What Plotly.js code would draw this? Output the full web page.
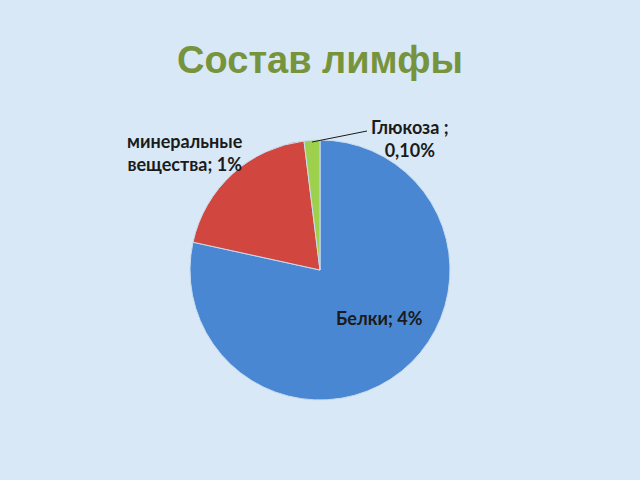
<!DOCTYPE html>
<html>
<head>
<meta charset="utf-8">
<script src="https://cdn.plot.ly/plotly-3.0.1.min.js"></script>
<style>
  html, body { margin: 0; padding: 0; background: #d8e8f6; }
  #chart { width: 640px; height: 480px; }
</style>
</head>
<body>
<div id="chart"></div>
<script>
// данные диаграммы
const categories = ['Белки', 'минеральные вещества', 'Глюкоза '];
const values = [4, 1, 0.1];
const valueLabels = ['4%', '1%', '0,10%'];
const sliceColors = ['#4a87d2', '#d1463f', '#9dd04c'];

const W = 640, H = 480;
const px = x => x / W;
const py = y => 1 - y / H;

const trace = {
    type: 'pie',
    labels: categories,
    values: values,
    sort: false,
    direction: 'clockwise',
    rotation: 0,
    textinfo: 'none',
    hoverinfo: 'none',
    marker: { colors: sliceColors, line: { color: '#c9dcf0', width: 1 } },
    domain: { x: [px(190), px(450)], y: [py(400), py(140)] },
    showlegend: false
};

// подписи: положение задаётся вручную, текст берётся из массивов
const labelFont = { family: 'Lato, "Open Sans", sans-serif', size: 18, color: '#1b1b1b' };
const annotations = [
    { x: px(379), y: py(318), text: '<b>' + categories[0] + '; ' + valueLabels[0] + '</b>' },
    { x: px(185), y: py(152), text: '<b>' + categories[1].replace(' ', '<br>') + '; ' + valueLabels[1] + '</b>' },
    { x: px(410), y: py(138), text: '<b>' + categories[2] + ';<br>' + valueLabels[2] + '</b>' }
].map(a => Object.assign({
    xref: 'paper', yref: 'paper', showarrow: false,
    xanchor: 'center', yanchor: 'middle', font: labelFont, align: 'center'
}, a));

const layout = {
    width: W, height: H,
    paper_bgcolor: '#d8e8f6',
    plot_bgcolor: '#d8e8f6',
    margin: { t: 0, r: 0, b: 0, l: 0 },
    title: {
        text: '<b>Состав лимфы</b>',
        x: 0.5, xanchor: 'center',
        y: py(60), yanchor: 'middle',
        font: { family: '"Liberation Sans", Arial, sans-serif', size: 38, color: '#77933c' }
    },
    annotations: annotations,
    shapes: [{
        type: 'line', xref: 'paper', yref: 'paper',
        x0: px(312), y0: py(142), x1: px(367), y1: py(131),
        line: { color: '#1b1b1b', width: 1 }
    }]
};

Plotly.newPlot('chart', [trace], layout, { displayModeBar: false, staticPlot: true });
</script>
</body>
</html>
